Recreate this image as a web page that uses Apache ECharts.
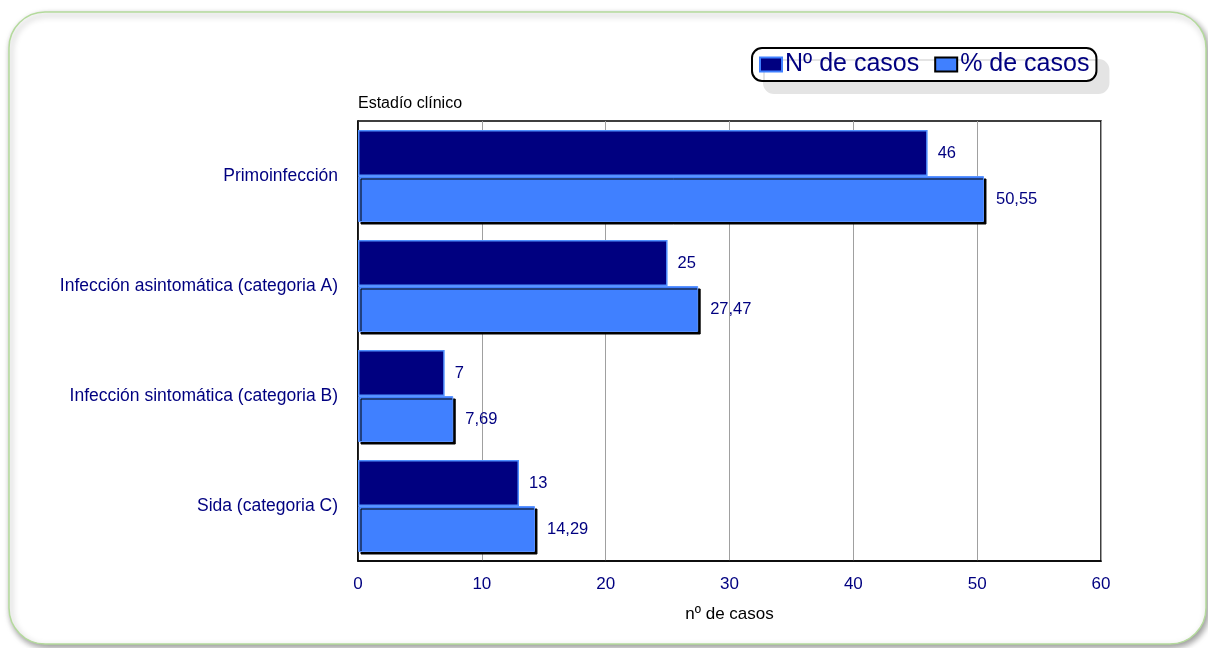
<!DOCTYPE html>
<html>
<head>
<meta charset="utf-8">
<script src="https://cdn.jsdelivr.net/npm/echarts@6/dist/echarts.min.js"></script>
<style>
  html, body { margin: 0; padding: 0; background: #ffffff; }
  #chart { width: 1208px; height: 648px; }
</style>
</head>
<body>
<div id="chart"></div>
<script>
// Clinical stage categories (top to bottom)
const categories = [
  'Primoinfección',
  'Infección asintomática (categoria A)',
  'Infección sintomática (categoria B)',
  'Sida (categoria C)'
];
const seriesNames = ['Nº de casos', '% de casos'];
const numCasos = [46, 25, 7, 13];
const pctCasos = [50.55, 27.47, 7.69, 14.29];
const xTicks = { min: 0, max: 60, interval: 10 };

const NAVY = '#000080';
const BLUE = '#4080ff';
const FONT = '"Liberation Sans", Arial, sans-serif';

const fmt = p => String(p.value).replace('.', ',');

const chart = echarts.init(document.getElementById('chart'), null, { renderer: 'canvas' });

chart.setOption({
  animation: false,
  textStyle: { fontFamily: FONT },
  graphic: [
    {
      type: 'rect',
      z: -10,
      silent: true,
      shape: { x: 9, y: 12, width: 1197, height: 632, r: 36 },
      style: {
        fill: '#ffffff',
        stroke: '#b4da9c',
        lineWidth: 1.5,
        shadowColor: 'rgba(0,0,0,0.4)',
        shadowBlur: 6,
        shadowOffsetX: 2,
        shadowOffsetY: 3
      }
    },
    {
      type: 'text',
      left: 358,
      top: 96,
      style: { text: 'Estadío clínico', fill: '#000', font: '16px ' + FONT }
    }
  ],
  legend: {
    left: 752,
    top: 48,
    padding: [4, 7, 4, 7],
    itemGap: 15,
    itemWidth: 22,
    itemHeight: 14,
    icon: 'rect',
    backgroundColor: '#ffffff',
    borderColor: '#000',
    borderWidth: 2,
    borderRadius: 10,
    shadowColor: '#e4e4e4',
    shadowBlur: 0,
    shadowOffsetX: 12,
    shadowOffsetY: 12,
    textStyle: { color: NAVY, fontSize: 25, fontFamily: FONT, padding: [0, 0, 0, -2] },
    data: [
      { name: seriesNames[0], itemStyle: { color: NAVY, borderColor: BLUE, borderWidth: 2 } },
      { name: seriesNames[1], itemStyle: { color: BLUE, borderColor: '#000', borderWidth: 2 } }
    ]
  },
  grid: { left: 358, right: 107, top: 121, bottom: 87, show: true, borderColor: '#000', borderWidth: 1.5, backgroundColor: 'transparent' },
  xAxis: {
    type: 'value',
    min: xTicks.min,
    max: xTicks.max,
    interval: xTicks.interval,
    name: 'nº de casos',
    nameLocation: 'middle',
    nameGap: 45,
    nameTextStyle: { color: '#000', fontSize: 17, fontFamily: FONT },
    axisLine: { show: true, lineStyle: { color: '#000', width: 1.5 } },
    axisTick: { show: false },
    axisLabel: { color: NAVY, fontSize: 17, margin: 15, fontFamily: FONT },
    splitLine: { show: true, lineStyle: { color: '#a0a0a0', width: 1 } }
  },
  yAxis: {
    type: 'category',
    inverse: true,
    data: categories,
    axisLine: { show: true, lineStyle: { color: '#000', width: 1.5 } },
    axisTick: { show: false },
    axisLabel: { color: NAVY, fontSize: 17.5, margin: 20, fontFamily: FONT },
    splitLine: { show: false }
  },
  series: [
    {
      name: seriesNames[0],
      type: 'bar',
      data: numCasos,
      barWidth: 46,
      barGap: '0%',
      itemStyle: { color: NAVY, borderColor: '#5090ff', borderWidth: 1.5 },
      label: { show: true, position: 'right', distance: 10, color: NAVY, fontSize: 16.5, fontFamily: FONT, formatter: fmt }
    },
    {
      name: seriesNames[1],
      type: 'bar',
      data: pctCasos,
      barWidth: 46,
      barGap: '0%',
      itemStyle: {
        color: BLUE,
        borderColor: '#5c94ff',
        borderWidth: 1,
        shadowColor: '#000',
        shadowBlur: 0,
        shadowOffsetX: 2.5,
        shadowOffsetY: 2.5
      },
      label: { show: true, position: 'right', distance: 12, color: NAVY, fontSize: 16.5, fontFamily: FONT, formatter: fmt }
    }
  ]
});
</script>
</body>
</html>
